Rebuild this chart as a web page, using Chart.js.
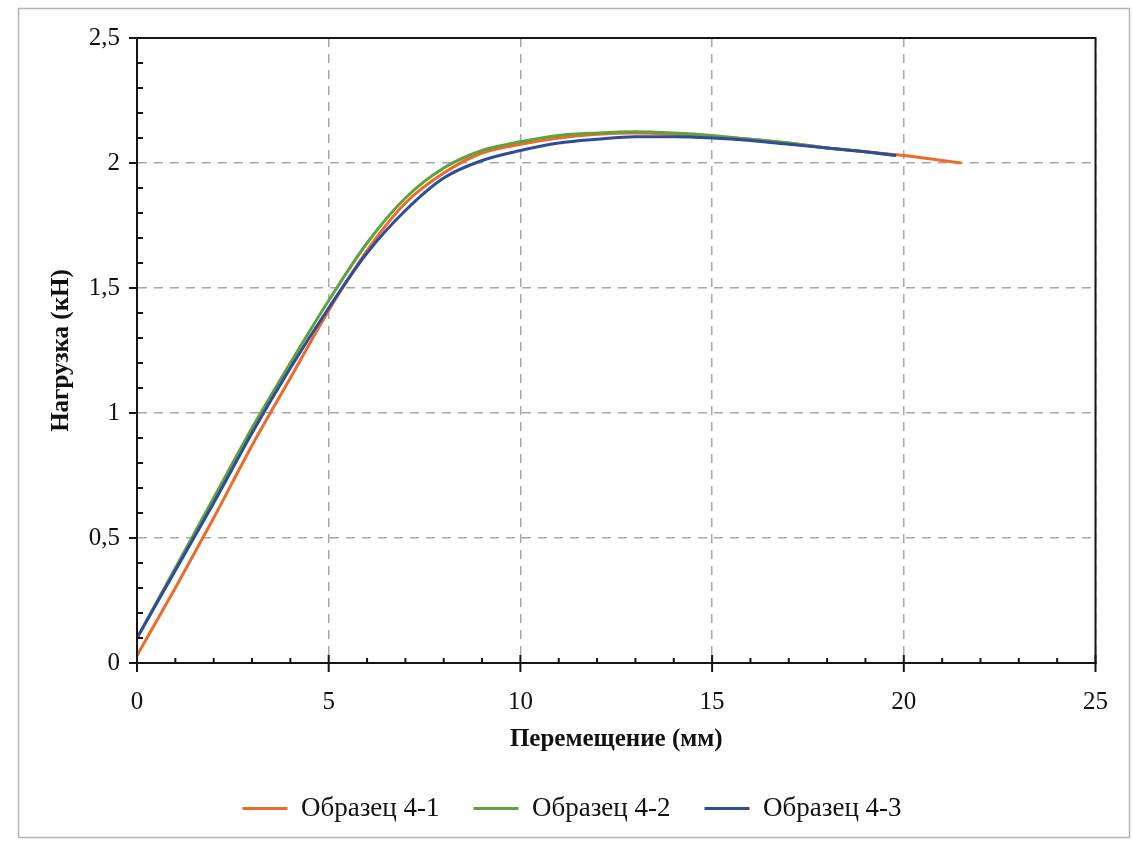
<!DOCTYPE html>
<html>
<head>
<meta charset="utf-8">
<script src="https://cdn.jsdelivr.net/npm/chart.js@4.4.0/dist/chart.umd.min.js"></script>
<style>
  html, body { margin: 0; padding: 0; background: #fff; }
  #wrap { width: 1132px; height: 843px; }
</style>
</head>
<body>
<div id="wrap"><canvas id="chart" width="1132" height="843"></canvas></div>
<script>
// Перемещение (мм) / Нагрузка (кН)
const seriesNames = ['Образец 4-1', 'Образец 4-2', 'Образец 4-3'];
const seriesColors = ['#ec6b2b', '#5fa23c', '#2f4c9c'];

const x41 = [0, 1, 2, 3, 4, 5, 6, 7, 8, 9, 10, 11, 12, 13, 14, 15, 16, 17, 18, 19, 20, 21, 21.5];
const y41 = [0.03, 0.30, 0.58, 0.87, 1.14, 1.41, 1.65, 1.84, 1.96, 2.04, 2.075, 2.10, 2.115, 2.12, 2.115, 2.105, 2.095, 2.08, 2.06, 2.045, 2.03, 2.01, 2.0];

const x42 = [0, 1, 2, 3, 4, 5, 6, 7, 8, 9, 10, 11, 12, 13, 14, 15, 16, 17, 18, 19, 19.8];
const y42 = [0.10, 0.38, 0.66, 0.94, 1.20, 1.45, 1.68, 1.86, 1.98, 2.05, 2.085, 2.11, 2.12, 2.125, 2.12, 2.11, 2.095, 2.08, 2.06, 2.045, 2.03];

const x43 = [0, 1, 2, 3, 4, 5, 6, 7, 8, 9, 10, 11, 12, 13, 14, 15, 16, 17, 18, 19, 19.8];
const y43 = [0.10, 0.37, 0.64, 0.92, 1.18, 1.42, 1.64, 1.81, 1.94, 2.01, 2.05, 2.08, 2.095, 2.105, 2.105, 2.10, 2.09, 2.075, 2.06, 2.045, 2.03];

const xTicks = [0, 5, 10, 15, 20, 25];
const yTicks = [0, 0.5, 1, 1.5, 2, 2.5];

const serif = "'Liberation Serif', 'DejaVu Serif', serif";

function toPoints(xs, ys) {
    return xs.map((v, i) => ({ x: v, y: ys[i] }));
}

// рамка графика, рамка рисунка и мелкие засечки
const framePlugin = {
    id: 'frame',
    beforeDraw(chart) {
        const ctx = chart.ctx;
        ctx.save();
        ctx.strokeStyle = '#b4b4b4';
        ctx.lineWidth = 1.5;
        ctx.strokeRect(18.5, 8.5, 1111, 829);
        ctx.restore();
    },
    afterDraw(chart) {
        const { ctx, chartArea: a, scales: { x, y } } = chart;
        ctx.save();
        ctx.strokeStyle = '#151515';
        ctx.lineWidth = 2;
        ctx.strokeRect(a.left, a.top, a.right - a.left, a.bottom - a.top);
        ctx.beginPath();
        for (let i = 0; i <= 25; i++) {
            const px = x.getPixelForValue(i);
            if (i % 5 === 0) {
                ctx.moveTo(px, a.bottom - 8);
                ctx.lineTo(px, a.bottom + 9);
            } else {
                ctx.moveTo(px, a.bottom);
                ctx.lineTo(px, a.bottom - 5);
            }
        }
        for (let i = 0; i <= 25; i++) {
            const py = y.getPixelForValue(i / 10);
            if (i % 5 === 0) {
                ctx.moveTo(a.left - 8, py);
                ctx.lineTo(a.left, py);
            } else {
                ctx.moveTo(a.left, py);
                ctx.lineTo(a.left + 6, py);
            }
        }
        ctx.stroke();
        ctx.restore();
    }
};

const allX = [x41, x42, x43];
const allY = [y41, y42, y43];
const drawOrder = [2, 1, 0];

new Chart(document.getElementById('chart'), {
    type: 'line',
    data: {
        datasets: seriesNames.map((name, i) => ({
            label: name,
            data: toPoints(allX[i], allY[i]),
            borderColor: seriesColors[i],
            backgroundColor: seriesColors[i],
            borderWidth: 3,
            pointRadius: 0,
            tension: 0.4,
            cubicInterpolationMode: 'monotone',
            order: drawOrder[i]
        }))
    },
    options: {
        responsive: false,
        animation: false,
        events: [],
        layout: { padding: { left: 46, right: 34, top: 38, bottom: 11 } },
        plugins: {
            tooltip: { enabled: false },
            legend: {
                position: 'bottom',
                labels: {
                    usePointStyle: true,
                    pointStyle: 'line',
                    pointStyleWidth: 45,
                    padding: 34,
                    color: '#111',
                    font: { family: serif, size: 27 },
                    sort: (a, b) => a.datasetIndex - b.datasetIndex
                }
            }
        },
        scales: {
            x: {
                type: 'linear',
                min: 0,
                max: 25,
                afterBuildTicks: (s) => { s.ticks = xTicks.map(v => ({ value: v })); },
                afterFit: (s) => { s.height = 98; },
                ticks: {
                    padding: 24,
                    color: '#111',
                    font: { family: serif, size: 25 }
                },
                grid: { color: '#a8a8a8', lineWidth: 1.5, drawTicks: false },
                border: { display: true, color: '#151515', width: 2, dash: [9, 7] },
                title: {
                    display: true,
                    text: 'Перемещение (мм)',
                    color: '#111',
                    padding: { top: 4, bottom: 6 },
                    font: { family: serif, size: 25, weight: 'bold' }
                }
            },
            y: {
                type: 'linear',
                min: 0,
                max: 2.5,
                afterBuildTicks: (s) => { s.ticks = yTicks.map(v => ({ value: v })); },
                afterFit: (s) => { s.width = 91; },
                ticks: {
                    padding: 17,
                    color: '#111',
                    font: { family: serif, size: 25 },
                    callback: (v) => String(v).replace('.', ',')
                },
                grid: { color: '#a8a8a8', lineWidth: 1.5, drawTicks: false },
                border: { display: true, color: '#151515', width: 2, dash: [9, 7] },
                title: {
                    display: true,
                    text: 'Нагрузка (кН)',
                    color: '#111',
                    padding: { top: 1, bottom: 4 },
                    font: { family: serif, size: 25, weight: 'bold' }
                }
            }
        }
    },
    plugins: [framePlugin]
});
</script>
</body>
</html>
